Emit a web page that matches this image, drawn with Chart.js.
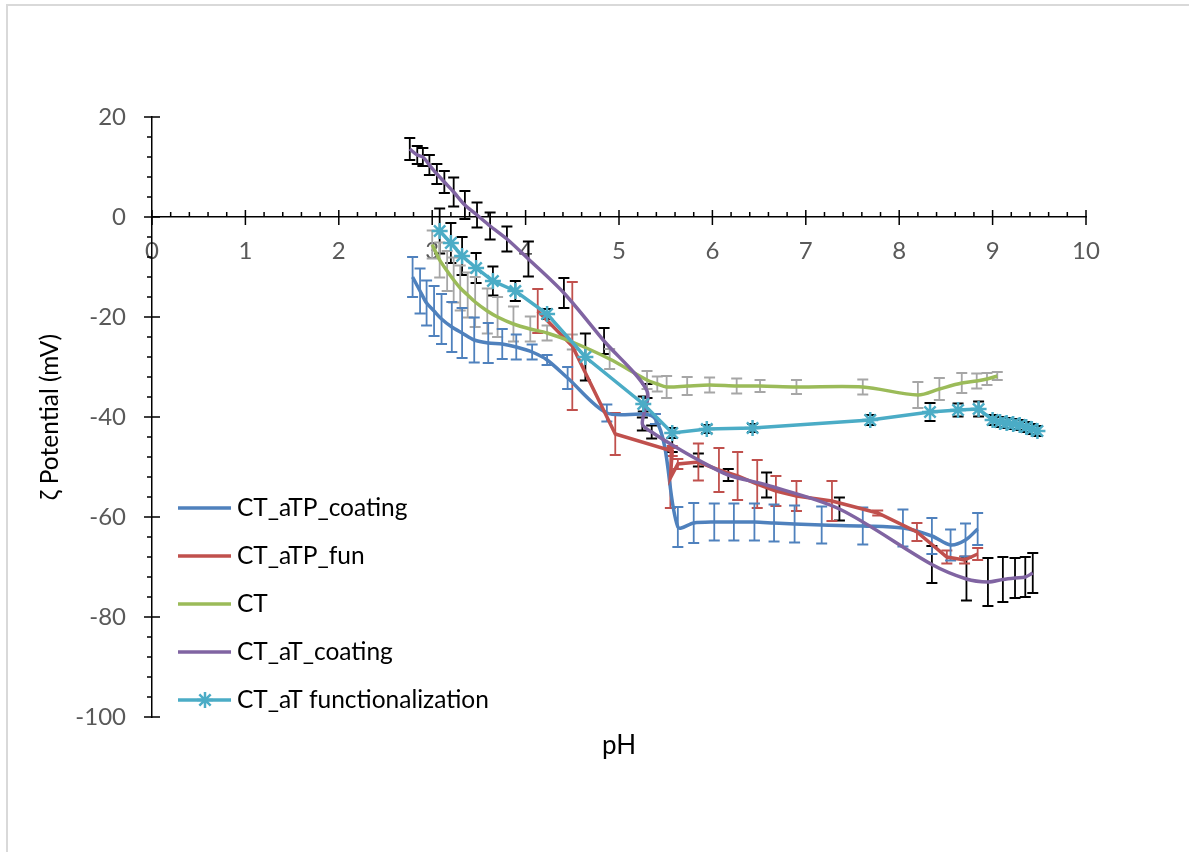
<!DOCTYPE html>
<html>
<head>
<meta charset="utf-8">
<title>Zeta potential vs pH</title>
<script src="https://cdn.jsdelivr.net/npm/chart.js@4.4.0/dist/chart.umd.min.js"></script>
<style>
  html, body { margin: 0; padding: 0; background: #fff; }
  #wrap { position: relative; width: 1189px; height: 852px; }
</style>
</head>
<body>
<div id="wrap"><canvas id="zetaChart" width="1189" height="852"></canvas></div>
<script>
// CT_aTP_coating
const coatingPH   = [2.79, 2.87, 2.94, 3.02, 3.10, 3.21, 3.32, 3.45, 3.60, 3.75, 3.90, 4.07, 4.23, 4.45, 4.87, 5.39, 5.63, 5.80, 6.02, 6.23, 6.45, 6.66, 6.88, 7.17, 7.61, 8.04, 8.35, 8.55, 8.71, 8.84];
const coatingZeta = [-12, -14.8, -17.2, -18.8, -20.4, -22, -23.2, -24.6, -25.2, -25.4, -26, -27, -28.6, -32.2, -39.2, -40.4, -62, -61.2, -61, -61, -61, -61.2, -61.4, -61.6, -61.8, -62.2, -63.8, -65.6, -64.6, -62.4];
const coatingErr  = [4, 4.5, 4.5, 5, 5, 5, 5, 4.5, 4, 3, 2.5, 1.5, 1, 2.2, 1.7, 1, 4, 4, 3.7, 3.7, 3.7, 3.7, 3.7, 3.7, 3.7, 3.7, 3.6, 3.1, 3.3, 3.2];

// CT_aTP_fun
const funPH   = [4.13, 4.50, 4.96, 5.57, 5.55, 5.63, 5.85, 6.07, 6.27, 6.48, 6.68, 6.90, 7.28, 7.77, 8.19, 8.51, 8.70, 8.84];
const funZeta = [-18.8, -25.8, -43.4, -46.8, -52.2, -49.4, -49, -50.6, -51.8, -53.4, -54.8, -55.8, -56.8, -59.2, -63, -68, -68.6, -67.4];
const funErr  = [4.4, 12.8, 4.2, 1, 6, 1, 3.7, 4.4, 4.8, 4.8, 3, 3, 4, 0.5, 1.8, 1.3, 0.7, 1.2];

// CT
const ctPH   = [3.00, 3.08, 3.16, 3.23, 3.30, 3.38, 3.46, 3.59, 3.70, 3.87, 4.05, 4.23, 4.50, 4.90, 5.30, 5.41, 5.51, 5.73, 5.97, 6.26, 6.51, 6.90, 7.61, 8.20, 8.43, 8.67, 8.83, 8.94, 9.05];
const ctZeta = [-5.5, -8.6, -10.8, -12.6, -14.2, -15.6, -17, -18.8, -20, -21.4, -22.4, -23.2, -25, -28.4, -32.6, -33.4, -34, -33.8, -33.6, -33.8, -33.8, -34, -34, -35.6, -34.4, -33.2, -32.8, -32.4, -31.8];
const ctErr  = [2.8, 3.5, 4, 4.5, 4.5, 4.5, 5, 4.5, 4, 3.5, 2.5, 1.5, 1.5, 2, 1.8, 1.5, 2.2, 1.8, 1.5, 1.5, 1.2, 1.4, 1.5, 2.6, 2.2, 2, 1.5, 1.2, 0.8];

// CT_aT_coating
const atCoatPH   = [2.76, 2.84, 2.90, 2.97, 3.05, 3.13, 3.23, 3.35, 3.48, 3.62, 3.80, 4.03, 4.41, 4.84, 5.30, 5.25, 5.35, 5.57, 5.85, 6.17, 6.58, 7.36, 8.35, 8.72, 8.95, 9.11, 9.24, 9.35, 9.43];
const atCoatZeta = [13.6, 12.4, 12, 10.4, 8.6, 7, 5, 2.4, 0.4, -1.8, -4.4, -8.4, -15.2, -24.8, -34.8, -41.4, -43, -45.6, -48.6, -51.6, -53.6, -58.4, -69.5, -72.4, -73, -72.5, -72.2, -72, -71.2];
const atCoatErr  = [2.2, 1.8, 1.8, 2, 2, 2.2, 2.9, 2.8, 2.5, 2.7, 2.5, 3.5, 3, 2.6, 1.4, 1.3, 1.3, 1.4, 1.3, 1.2, 2.5, 2.3, 3.7, 4.3, 4.8, 4.5, 4, 4, 4];

// CT_aT functionalization
const atFunPH   = [3.08, 3.20, 3.32, 3.47, 3.65, 3.89, 4.23, 4.64, 5.26, 5.57, 5.94, 6.43, 7.69, 8.33, 8.63, 8.85, 9.00, 9.08, 9.15, 9.22, 9.29, 9.36, 9.42, 9.48];
const atFunZeta = [-2.8, -5.2, -7.8, -10.2, -12.8, -14.8, -19.4, -28, -37.4, -43.2, -42.4, -42.2, -40.6, -39, -38.6, -38.4, -40.6, -41, -41.2, -41.4, -41.6, -42, -42.4, -42.8];
const atFunErr  = [4.5, 4, 3.8, 3, 2.9, 2, 1, 4.7, 1.5, 1, 0.8, 0.8, 1, 1.8, 1.3, 1.5, 1, 1, 1, 1, 1, 1, 1, 1];

const seriesNames = ['CT_aTP_coating', 'CT_aTP_fun', 'CT', 'CT_aT_coating', 'CT_aT functionalization'];

function toPoints(xs, ys) {
    return xs.map((x, i) => ({ x: x, y: ys[i] }));
}

Chart.defaults.font.family = 'Lato, "Open Sans", sans-serif';

// vertical error bars with caps, drawn under the lines
const errorBarPlugin = {
    id: 'errorBars',
    beforeDatasetsDraw(chart) {
        const ctx = chart.ctx;
        const xs = chart.scales.x;
        const ys = chart.scales.y;
        chart.data.datasets.slice().reverse().forEach(ds => {
            ctx.save();
            ctx.strokeStyle = ds.errorColor;
            ctx.lineWidth = 1.8;
            ctx.beginPath();
            ds.data.forEach((p, i) => {
                const e = ds.errors[i];
                const px = xs.getPixelForValue(p.x);
                const top = ys.getPixelForValue(p.y + e);
                const bot = ys.getPixelForValue(p.y - e);
                ctx.moveTo(px, top); ctx.lineTo(px, bot);
                ctx.moveTo(px - 5.5, top); ctx.lineTo(px + 5.5, top);
                ctx.moveTo(px - 5.5, bot); ctx.lineTo(px + 5.5, bot);
            });
            ctx.stroke();
            ctx.restore();
        });
    }
};

// major / minor tick marks like the spreadsheet axes
const tickMarkPlugin = {
    id: 'tickMarks',
    beforeDatasetsDraw(chart) {
        const ctx = chart.ctx;
        const xs = chart.scales.x;
        const ys = chart.scales.y;
        const y0 = ys.getPixelForValue(0);
        const x0 = chart.chartArea.left;
        ctx.save();
        ctx.strokeStyle = '#000';
        ctx.lineWidth = 1.5;
        ctx.beginPath();
        for (let i = 0; i <= 50; i++) {
            const px = xs.getPixelForValue(i / 5);
            if (i % 5 === 0) {
                ctx.moveTo(px, y0 - 7); ctx.lineTo(px, y0 + 8);
            } else {
                ctx.moveTo(px, y0 - 5); ctx.lineTo(px, y0);
            }
        }
        for (let i = 0; i <= 30; i++) {
            const v = -100 + i * 4;
            const py = ys.getPixelForValue(v);
            if (v % 20 === 0) {
                ctx.moveTo(x0 - 8, py); ctx.lineTo(x0 + 8, py);
            } else {
                ctx.moveTo(x0 - 5, py); ctx.lineTo(x0, py);
            }
        }
        ctx.stroke();
        ctx.restore();
    }
};

// legend inside the plot area, left side
const insideLegendPlugin = {
    id: 'insideLegend',
    afterDraw(chart) {
        const ctx = chart.ctx;
        ctx.save();
        ctx.font = '24.5px Lato, "Open Sans", sans-serif';
        ctx.textBaseline = 'middle';
        ctx.fillStyle = '#000';
        seriesNames.forEach((name, i) => {
            const ds = chart.data.datasets[i];
            const y = 508 + i * 48;
            ctx.strokeStyle = ds.borderColor;
            ctx.lineWidth = 3.5;
            ctx.beginPath();
            ctx.moveTo(178, y); ctx.lineTo(231, y);
            ctx.stroke();
            if (ds.pointStyle === 'star') {
                ctx.lineWidth = 2.5;
                ctx.beginPath();
                const r = 8;
                for (let k = 0; k < 4; k++) {
                    const a = k * Math.PI / 4;
                    ctx.moveTo(205 - r * Math.cos(a), y - r * Math.sin(a));
                    ctx.lineTo(205 + r * Math.cos(a), y + r * Math.sin(a));
                }
                ctx.stroke();
            }
            ctx.fillText(name, 237, y);
        });
        ctx.restore();
    }
};

// light frame of the chart object
const framePlugin = {
    id: 'frame',
    beforeDraw(chart) {
        const ctx = chart.ctx;
        ctx.save();
        ctx.strokeStyle = '#d9d9d9';
        ctx.lineWidth = 2;
        ctx.strokeRect(7, 5, 1200, 900);
        ctx.restore();
    }
};

const ctx = document.getElementById('zetaChart').getContext('2d');
new Chart(ctx, {
    type: 'scatter',
    data: {
        datasets: [
            {
                label: seriesNames[0],
                data: toPoints(coatingPH, coatingZeta),
                errors: coatingErr,
                errorColor: '#4F81BD',
                borderColor: '#4F81BD',
                showLine: true,
                tension: 0.3,
                borderWidth: 3.5,
                pointRadius: 0,
                order: 5
            },
            {
                label: seriesNames[1],
                data: toPoints(funPH, funZeta),
                errors: funErr,
                errorColor: '#C0504D',
                borderColor: '#C0504D',
                showLine: true,
                tension: 0,
                borderWidth: 3.5,
                pointRadius: 0,
                order: 4
            },
            {
                label: seriesNames[2],
                data: toPoints(ctPH, ctZeta),
                errors: ctErr,
                errorColor: '#A6A6A6',
                borderColor: '#9BBB59',
                showLine: true,
                tension: 0.3,
                borderWidth: 3.5,
                pointRadius: 0,
                order: 3
            },
            {
                label: seriesNames[3],
                data: toPoints(atCoatPH, atCoatZeta),
                errors: atCoatErr,
                errorColor: '#000000',
                borderColor: '#8064A2',
                showLine: true,
                tension: 0.3,
                borderWidth: 3.5,
                pointRadius: 0,
                order: 2
            },
            {
                label: seriesNames[4],
                data: toPoints(atFunPH, atFunZeta),
                errors: atFunErr,
                errorColor: '#000000',
                borderColor: '#4BACC6',
                backgroundColor: '#4BACC6',
                showLine: true,
                tension: 0,
                borderWidth: 3.5,
                pointStyle: 'star',
                pointRadius: 8,
                pointBorderWidth: 2.5,
                order: 1
            }
        ]
    },
    options: {
        responsive: false,
        animation: false,
        layout: { padding: { top: 117, right: 103, bottom: 0, left: 0 } },
        plugins: {
            legend: { display: false },
            tooltip: { enabled: false }
        },
        scales: {
            x: {
                type: 'linear',
                position: { y: 0 },
                min: 0,
                max: 10,
                ticks: {
                    stepSize: 1,
                    color: '#595959',
                    font: { size: 24 },
                    padding: 20,
                    maxRotation: 0
                },
                grid: { drawOnChartArea: false, drawTicks: false },
                border: { color: '#000', width: 1.5 }
            },
            x2: {
                type: 'linear',
                position: 'bottom',
                min: 0,
                max: 10,
                ticks: { display: false },
                grid: { drawOnChartArea: false, drawTicks: false },
                border: { display: false },
                title: {
                    display: true,
                    text: 'pH',
                    color: '#000',
                    font: { size: 26 },
                    padding: { top: 0, bottom: 91 }
                },
                afterFit(scale) { scale.height = 135; }
            },
            y: {
                type: 'linear',
                position: 'left',
                min: -100,
                max: 20,
                ticks: {
                    stepSize: 20,
                    color: '#595959',
                    font: { size: 24 },
                    padding: 26
                },
                grid: { drawOnChartArea: false, drawTicks: false },
                border: { color: '#000', width: 1.5 },
                title: {
                    display: true,
                    text: 'ζ Potential (mV)',
                    color: '#000',
                    font: { size: 24.5 },
                    padding: { top: 35, bottom: 0 }
                },
                afterFit(scale) { scale.width = 152; }
            }
        }
    },
    plugins: [framePlugin, tickMarkPlugin, errorBarPlugin, insideLegendPlugin]
});
</script>
</body>
</html>
